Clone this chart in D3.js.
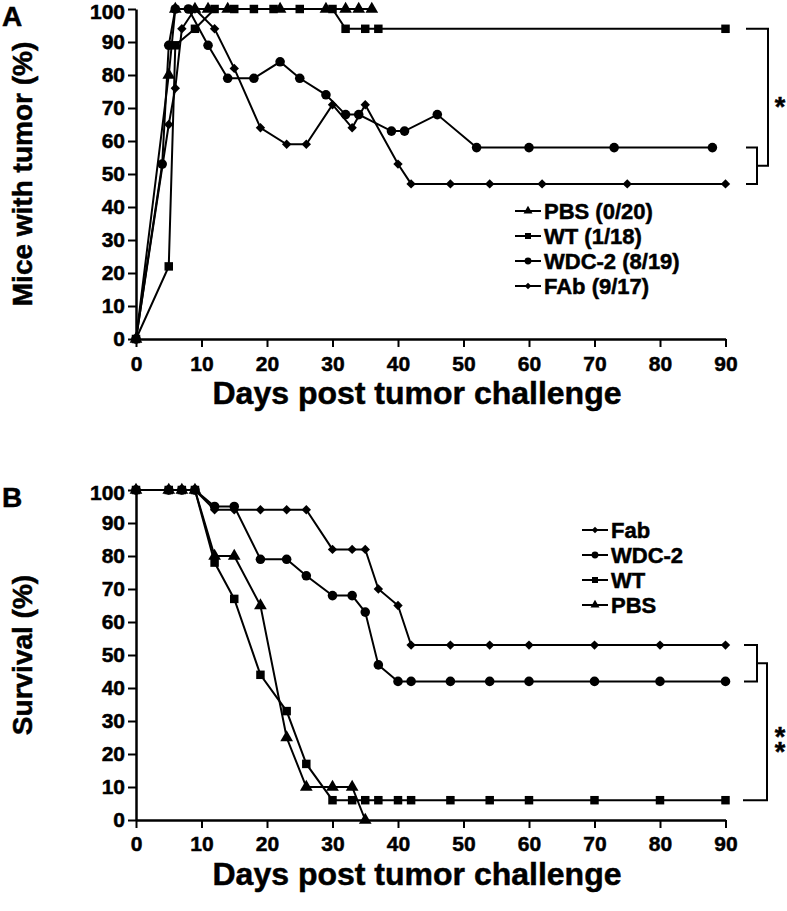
<!DOCTYPE html>
<html>
<head>
<meta charset="utf-8">
<script src="https://cdn.jsdelivr.net/npm/d3@7"></script>
<style>
  body { margin: 0; background: #fff; }
  svg text { font-family: "Liberation Sans", Arial, sans-serif; font-weight: bold; fill: #000; stroke: #000; stroke-width: 0.5px; }
</style>
</head>
<body>
<svg id="chart" width="787" height="911"></svg>
<script>
// panel A: mice with tumor (%)
let tumorPbsDays = [0, 5, 6, 9, 11, 14, 22, 29, 32, 34, 36];
let tumorPbsPct = [0, 80, 100, 100, 100, 100, 100, 100, 100, 100, 100];
let tumorWtDays = [0, 5, 6, 9, 12, 15, 18, 21, 25, 30, 32, 35, 37, 90];
let tumorWtPct = [0, 22, 89, 94, 100, 100, 100, 100, 100, 100, 94, 94, 94, 94];
let tumorWdcDays = [0, 4, 5, 6, 8, 11, 14, 18, 22, 25, 29, 32, 34, 39, 41, 46, 52, 60, 73, 88];
let tumorWdcPct = [0, 53, 89, 100, 100, 89, 79, 79, 84, 79, 74, 68, 68, 63, 63, 68, 58, 58, 58, 58];
let tumorFabDays = [0, 5, 6, 7, 9, 12, 15, 19, 23, 26, 30, 33, 35, 40, 42, 48, 54, 62, 75, 90];
let tumorFabPct = [0, 65, 76, 94, 100, 94, 82, 64, 59, 59, 71, 64, 71, 53, 47, 47, 47, 47, 47, 47];

// panel B: survival (%)
let survFabDays = [0, 5, 7, 9, 12, 15, 19, 23, 26, 30, 33, 35, 37, 40, 42, 48, 54, 60, 70, 80, 90];
let survFabPct = [100, 100, 100, 100, 94, 94, 94, 94, 94, 82, 82, 82, 70, 65, 53, 53, 53, 53, 53, 53, 53];
let survWdcDays = [0, 5, 7, 9, 12, 15, 19, 23, 26, 30, 33, 35, 37, 40, 42, 48, 54, 60, 70, 80, 90];
let survWdcPct = [100, 100, 100, 100, 95, 95, 79, 79, 74, 68, 68, 63, 47, 42, 42, 42, 42, 42, 42, 42, 42];
let survWtDays = [0, 5, 7, 9, 12, 15, 19, 23, 26, 30, 33, 35, 37, 40, 42, 48, 54, 60, 70, 80, 90];
let survWtPct = [100, 100, 100, 100, 78, 67, 44, 33, 17, 6, 6, 6, 6, 6, 6, 6, 6, 6, 6, 6, 6];
let survPbsDays = [0, 5, 7, 9, 12, 15, 19, 23, 26, 30, 33, 35];
let survPbsPct = [100, 100, 100, 100, 80, 80, 65, 25, 10, 10, 10, 0];

let legendA = ["PBS (0/20)", "WT (1/18)", "WDC-2 (8/19)", "FAb (9/17)"];
let legendB = ["Fab", "WDC-2", "WT", "PBS"];
let xTicks = [0, 10, 20, 30, 40, 50, 60, 70, 80, 90];
let yTicks = [0, 10, 20, 30, 40, 50, 60, 70, 80, 90, 100];

let svg = d3.select("#chart");

// marker shapes
let shapes = {
  triangle: { type: d3.symbolTriangle, size: 70, rot: 0 },
  square: { type: d3.symbolSquare, size: 72, rot: 0 },
  circle: { type: d3.symbolCircle, size: 72, rot: 0 },
  diamond: { type: d3.symbolSquare, size: 44, rot: 45 }
};

function drawPanel(opts) {
  let x = d3.scaleLinear().domain([0, 90]).range([136, 725.5]);
  let y = d3.scaleLinear().domain([0, 100]).range([opts.bottom, opts.bottom - 330]);
  let g = svg.append("g");

  // series
  opts.series.forEach(function (s) {
    let pts = d3.zip(s.days, s.vals);
    g.append("path")
      .attr("d", d3.line().x(function (d) { return x(d[0]); }).y(function (d) { return y(d[1]); })(pts))
      .attr("fill", "none")
      .attr("stroke", "#000")
      .attr("stroke-width", 2);
    let sh = shapes[s.shape];
    g.selectAll(null)
      .data(pts)
      .enter()
      .append("path")
      .attr("d", d3.symbol().type(sh.type).size(sh.size))
      .attr("transform", function (d) {
        return "translate(" + x(d[0]) + "," + y(d[1]) + ") rotate(" + sh.rot + ")";
      })
      .attr("fill", "#000");
  });

  // axes
  let ax = g.append("g")
    .attr("transform", "translate(0," + opts.bottom + ")")
    .call(d3.axisBottom(x).tickValues(xTicks).tickSize(8).tickSizeOuter(0).tickPadding(opts.xPad));
  let ay = g.append("g")
    .attr("transform", "translate(136,0)")
    .call(d3.axisLeft(y).tickValues(yTicks).tickSize(8).tickSizeOuter(0).tickPadding(3));
  [ax, ay].forEach(function (a) {
    a.select(".domain").attr("stroke", "#000").attr("stroke-width", 2.5);
    a.selectAll(".tick line").attr("stroke", "#000").attr("stroke-width", 2);
    a.selectAll(".tick text")
      .attr("font-size", 21)
      .attr("font-family", "'Liberation Sans', Arial, sans-serif")
      .attr("font-weight", "bold")
      .attr("fill", "#000");
  });
  // keep the top label inside the picture
  ay.selectAll(".tick text").filter(function (d) { return d === 100; }).attr("dy", "0.45em");

  // axis titles
  g.append("text")
    .attr("x", 417)
    .attr("y", opts.bottom + 65)
    .attr("text-anchor", "middle")
    .attr("font-size", 32)
    .text("Days post tumor challenge");
  g.append("text")
    .attr("transform", "translate(32," + (opts.bottom - 165) + ") rotate(-90)")
    .attr("text-anchor", "middle")
    .attr("font-size", 28)
    .text(opts.yLabel);

  // panel letter
  g.append("text")
    .attr("x", 2)
    .attr("y", opts.bottom - 313)
    .attr("font-size", 28)
    .text(opts.letter);

  // legend
  let lg = g.append("g");
  opts.legend.forEach(function (name, i) {
    let ly = opts.legendY + i * 25;
    lg.append("line")
      .attr("x1", opts.legendX).attr("x2", opts.legendX + 26)
      .attr("y1", ly).attr("y2", ly)
      .attr("stroke", "#000").attr("stroke-width", 2);
    let sh = shapes[opts.legendShapes[i]];
    lg.append("path")
      .attr("d", d3.symbol().type(sh.type).size(sh.size * 0.5))
      .attr("transform", "translate(" + (opts.legendX + 13) + "," + ly + ") rotate(" + sh.rot + ")")
      .attr("fill", "#000");
    lg.append("text")
      .attr("x", opts.legendX + 29)
      .attr("y", ly + 8)
      .attr("font-size", 22)
      .text(name);
  });

  // significance brackets
  let bk = g.append("g").attr("fill", "none").attr("stroke", "#000").attr("stroke-width", 2);
  opts.brackets.forEach(function (b) {
    bk.append("path")
      .attr("d", "M" + b.x0 + "," + y(b.v0) + "H" + b.x1 + "V" + y(b.v1) + "H" + b.x2);
  });
  let st = g.append("text")
    .attr("x", 780)
    .attr("y", y(opts.stars[0]) + 15)
    .attr("text-anchor", "middle")
    .attr("font-size", 27);
  opts.stars.forEach(function (v, i) {
    st.append("tspan")
      .attr("x", 780)
      .attr("dy", i === 0 ? 0 : y(v) - y(opts.stars[i - 1]))
      .text("*");
  });
}

drawPanel({
  bottom: 339,
  xPad: 9,
  letter: "A",
  yLabel: "Mice with tumor (%)",
  series: [
    { days: tumorPbsDays, vals: tumorPbsPct, shape: "triangle" },
    { days: tumorWtDays, vals: tumorWtPct, shape: "square" },
    { days: tumorWdcDays, vals: tumorWdcPct, shape: "circle" },
    { days: tumorFabDays, vals: tumorFabPct, shape: "diamond" }
  ],
  legend: legendA,
  legendShapes: ["triangle", "square", "circle", "diamond"],
  legendX: 515,
  legendY: 211,
  brackets: [
    { x0: 746, v0: 94, x1: 768, v1: 52.5, x2: 757 },
    { x0: 746, v0: 58, x1: 757, v1: 47, x2: 746 }
  ],
  stars: [72]
});

drawPanel({
  bottom: 820,
  xPad: 8,
  letter: "B",
  yLabel: "Survival (%)",
  series: [
    { days: survPbsDays, vals: survPbsPct, shape: "triangle" },
    { days: survWtDays, vals: survWtPct, shape: "square" },
    { days: survWdcDays, vals: survWdcPct, shape: "circle" },
    { days: survFabDays, vals: survFabPct, shape: "diamond" }
  ],
  legend: legendB,
  legendShapes: ["diamond", "circle", "square", "triangle"],
  legendX: 582,
  legendY: 530,
  brackets: [
    { x0: 744, v0: 53, x1: 757, v1: 42, x2: 744 },
    { x0: 757, v0: 47.5, x1: 767, v1: 6, x2: 743 }
  ],
  stars: [27, 22.5]
});
</script>
</body>
</html>
